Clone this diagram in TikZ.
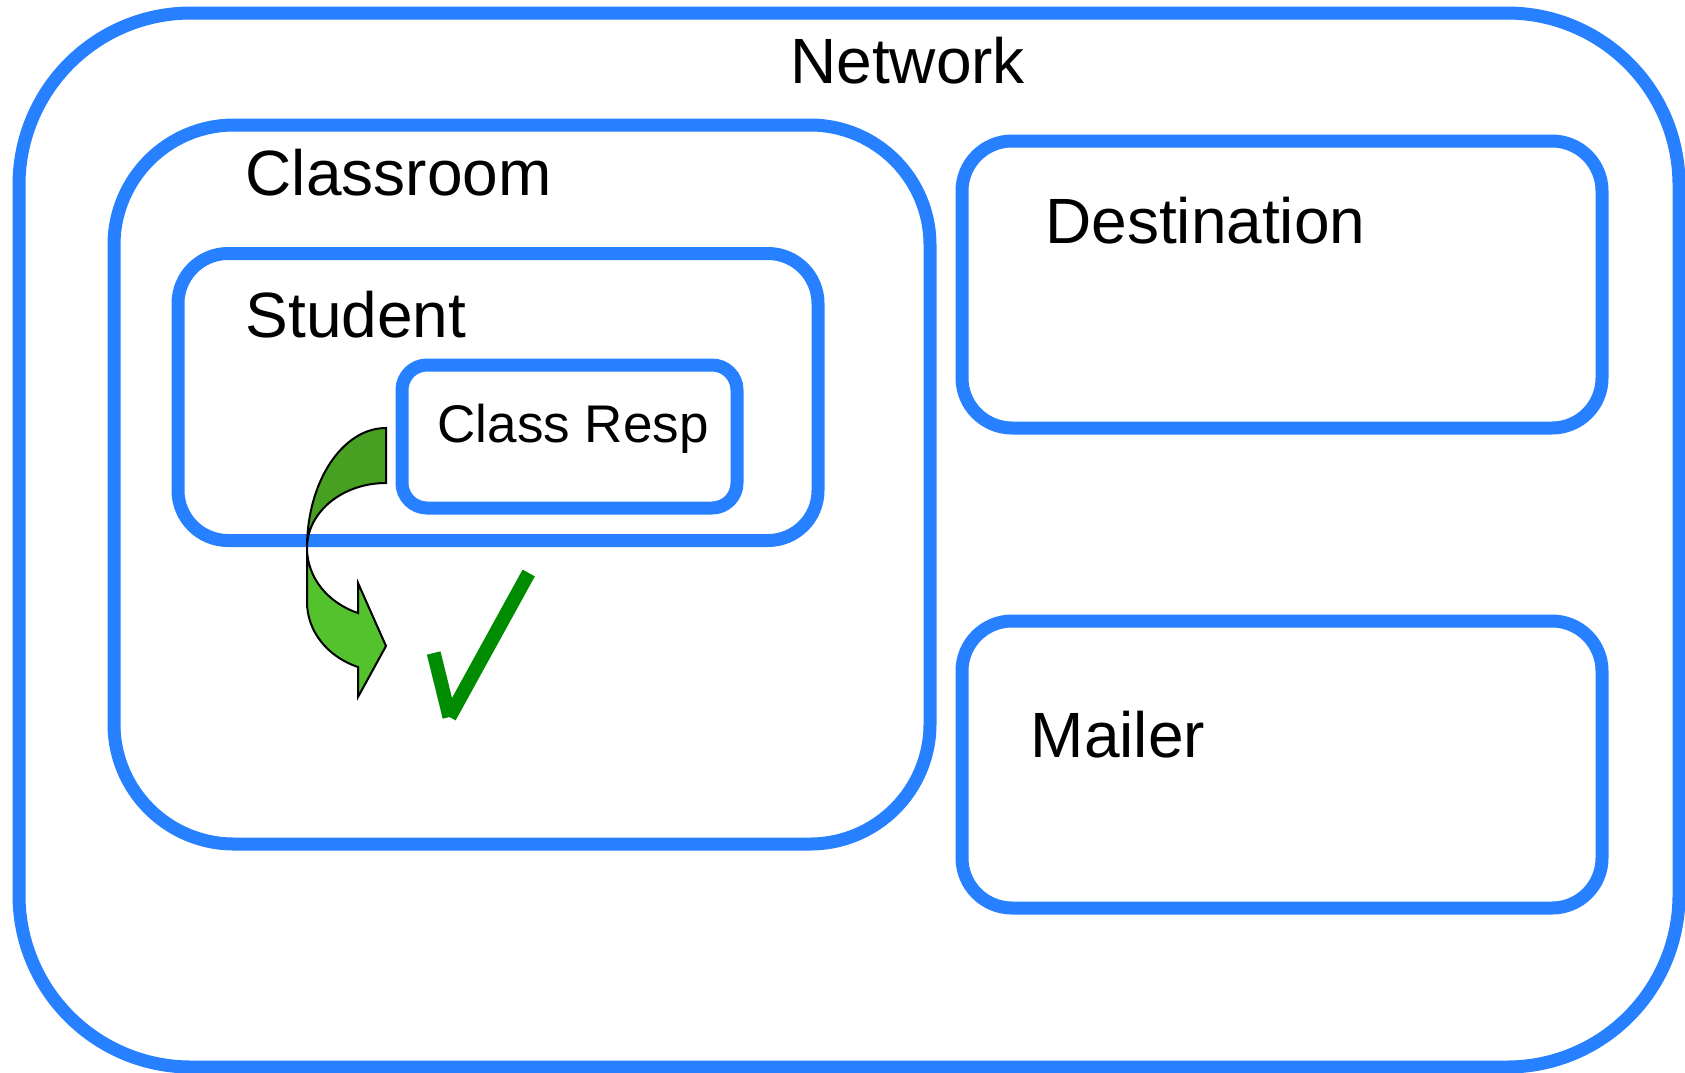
\documentclass[tikz,border=0pt]{standalone}
\usepackage{fontspec}
\setmainfont{Liberation Sans}
\definecolor{boxblue}{RGB}{38,128,255}
\definecolor{ribbondark}{RGB}{72,160,35}
\definecolor{ribbonlight}{RGB}{84,194,44}
\definecolor{tickgreen}{RGB}{0,140,0}
\begin{document}
\begin{tikzpicture}[x=1pt,y=-1pt,
  frame/.style={draw=boxblue,line width=13pt},
  biglabel/.style={anchor=base west,inner sep=0pt,font=\fontsize{64}{70}\selectfont},
  smalllabel/.style={anchor=base west,inner sep=0pt,font=\fontsize{53}{60}\selectfont},
  ribbon/.style={draw=black,line width=2pt,line join=miter},
  tickstroke/.style={draw=tickgreen,line width=14pt,line cap=butt}]
\useasboundingbox (0,0) rectangle (1685,1072);
\fill[white] (0,0) rectangle (1685,1072);

% nested containers
\draw[frame,rounded corners=172pt] (19,13) rectangle (1679,1067);
\draw[frame,rounded corners=120pt] (114,125) rectangle (930,844);
\draw[frame,rounded corners=50pt] (178,253.5) rectangle (818,540.5);
\draw[frame,rounded corners=25pt] (402,365) rectangle (737,508);
\draw[frame,rounded corners=50pt] (962,141) rectangle (1602,428);
\draw[frame,rounded corners=50pt] (962,621) rectangle (1602,908);

% labels
\node[biglabel] (network) at (790,83.3) {Network};
\node[biglabel] (classroom) at (245.5,195.5) {Classroom};
\node[biglabel] (student) at (245.5,337) {Student};
\node[smalllabel] (classresp) at (437.4,442.3) {Class Resp};
\node[biglabel] (destination) at (1045,243.3) {Destination};
\node[biglabel] (mailer) at (1030.5,757.6) {Mailer};

% curved ribbon arrow: upper (back) band and lower (front) band with head
\filldraw[ribbon,fill=ribbondark] (386,428)
  .. controls (342.4,428) and (307,481.7) .. (307,548)
  .. controls (307,512.1) and (342.4,483) .. (386,483) -- cycle;
\filldraw[ribbon,fill=ribbonlight] (307,548)
  .. controls (307,577) and (327.3,602.7) .. (358,613)
  -- (358,583) -- (386,646) -- (358,697) -- (358,667)
  .. controls (327.3,656.7) and (307,631) .. (307,602) -- cycle;

% check mark
\coordinate (tickA) at (433.7,653);
\coordinate (tickB) at (449.5,717);
\coordinate (tickC) at (528.7,573);
\draw[tickstroke] (tickA) -- (tickB);
\draw[tickstroke] (tickC) -- (tickB);
\end{tikzpicture}
\end{document}
